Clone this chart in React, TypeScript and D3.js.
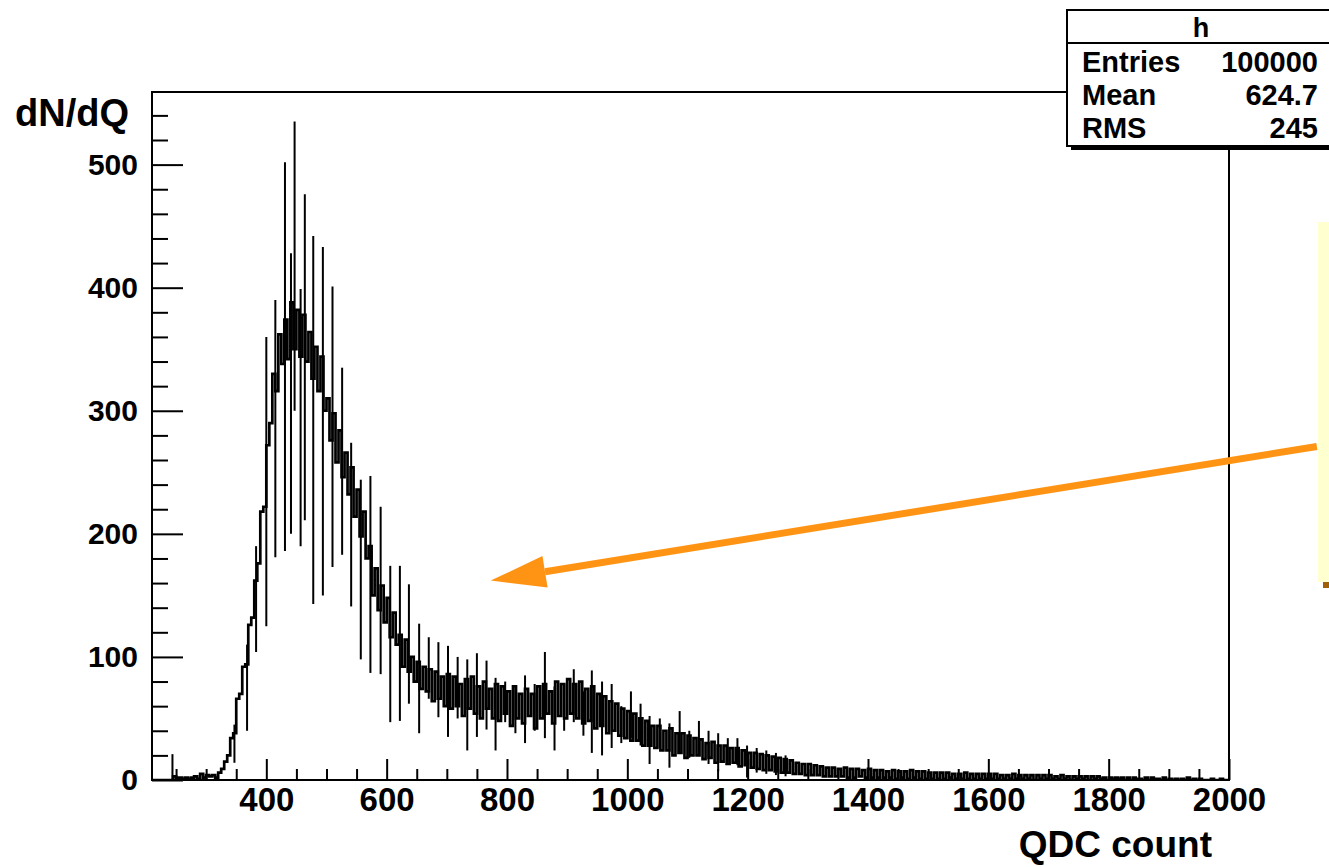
import * as d3 from "d3";
import { useEffect, useRef } from "react";

// histogram "h": QDC spectrum, 5-count bins starting at 210
const binStart = 210;
const binWidth = 5;
const counts = [
  0, 0, 0, 0, 0, 0, 0, 3, 2, 2, 1, 2, 1, 2, 3, 1, 5, 2, 4, 3,
  4, 2, 6, 9, 15, 20, 34, 38, 66, 70, 92, 94, 126, 132, 162, 176, 218, 222, 272, 290,
  330, 316, 362, 338, 374, 342, 388, 350, 382, 344, 378, 340, 364, 326, 352, 316, 344, 300, 310, 276,
  298, 258, 284, 246, 266, 232, 254, 214, 236, 198, 218, 180, 190, 150, 172, 138, 158, 128, 148, 116,
  136, 110, 118, 92, 114, 88, 100, 80, 96, 74, 92, 72, 90, 64, 88, 66, 84, 60, 86, 58,
  84, 60, 78, 52, 82, 58, 84, 54, 76, 50, 80, 58, 74, 50, 78, 48, 76, 54, 72, 44,
  76, 50, 70, 46, 74, 52, 70, 42, 76, 50, 78, 54, 72, 46, 80, 52, 78, 50, 82, 54,
  78, 50, 80, 46, 74, 48, 76, 42, 70, 44, 68, 38, 64, 40, 62, 36, 58, 34, 56, 32,
  54, 32, 50, 28, 48, 28, 44, 26, 44, 24, 40, 24, 42, 20, 38, 22, 38, 18, 36, 20,
  34, 20, 33, 17, 30, 18, 31, 14, 28, 15, 28, 13, 26, 14, 26, 11, 24, 12, 22, 10,
  22, 9, 21, 8, 20, 8, 19, 7, 18, 6, 17, 6, 16, 5, 14, 5, 13, 4, 13, 4,
  12, 4, 11, 3, 10, 3, 10, 3, 9, 3, 10, 2, 9, 2, 9, 3, 8, 2, 9, 2,
  8, 2, 8, 2, 7, 2, 8, 1, 7, 2, 7, 1, 8, 2, 7, 1, 7, 1, 6, 1,
  6, 1, 6, 1, 6, 2, 5, 1, 5, 1, 6, 1, 5, 1, 5, 1, 5, 1, 5, 1,
  5, 1, 4, 1, 4, 1, 5, 1, 4, 1, 4, 1, 4, 0, 4, 1, 4, 1, 4, 1,
  3, 1, 4, 1, 3, 0, 3, 1, 3, 1, 3, 0, 3, 1, 3, 1, 2, 0, 2, 1,
  2, 1, 2, 0, 2, 0, 2, 1, 1, 0, 2, 0, 2, 1, 1, 0, 2, 0, 1, 0,
  1, 0, 1, 0, 2, 0, 1, 0, 1, 0, 0, 0, 1, 0, 0, 1, 0, 0, 0, 1,
];

// single-channel spikes (channel, high count, low count)
const spikes: [number, number, number][] = [
  [244, 21, 0], [347, 45, 14], [368, 110, 40], [383, 190, 104], [400, 360, 125],
  [415, 390, 181], [431, 502, 186], [441, 428, 200], [447, 535, 300], [457, 399, 190],
  [464, 476, 211], [478, 442, 143], [494, 433, 150], [510, 401, 173], [526, 335, 183],
  [541, 274, 141], [557, 244, 98], [573, 247, 87], [590, 222, 86], [606, 174, 47],
  [622, 174, 48], [637, 159, 62], [654, 127, 38], [670, 116, 66], [686, 112, 51],
  [702, 109, 35], [718, 100, 50], [734, 98, 24], [750, 103, 35], [766, 97, 41],
  [781, 83, 24], [797, 80, 47], [814, 75, 38], [830, 85, 30], [846, 78, 40],
  [863, 104, 34], [879, 76, 24], [895, 78, 40], [911, 90, 47], [927, 72, 36],
  [941, 89, 22], [958, 80, 20], [974, 78, 26], [990, 60, 30], [1006, 72, 34],
  [1022, 62, 28], [1037, 52, 13], [1054, 50, 26], [1070, 46, 10], [1087, 56, 22],
  [1103, 40, 18], [1119, 48, 20], [1135, 40, 13], [1151, 38, 7], [1167, 34, 14],
  [1183, 34, 12], [1199, 28, 2], [1215, 26, 6], [1231, 24, 5], [1247, 22, 4], [1263, 20, 3],
];

const xMajor = [400, 600, 800, 1000, 1200, 1400, 1600, 1800, 2000];
const yMajor = [0, 100, 200, 300, 400, 500];
const statRows = [
  ["Entries", "100000"],
  ["Mean", "624.7"],
  ["RMS", "245"],
];

// arrow in data units (tail sits off the frame, on the note box)
const arrowFrom = [2146, 271];
const arrowTo = [773, 162];

const font = "'Liberation Sans', Arial, Helvetica, sans-serif";
const orange = "rgb(255,148,20)";

const App = () => {
  const ref = useRef<SVGSVGElement>(null);

  useEffect(() => {
    const svg = d3.select(ref.current);
    svg.selectAll("*").remove();

    const frame = { left: 152, right: 1229, top: 92, bottom: 780 };
    const x = d3.scaleLinear().domain([210, 2000]).range([frame.left, frame.right]);
    const y = d3.scaleLinear().domain([0, 559]).range([frame.bottom, frame.top]);

    svg.append("rect").attr("width", 1329).attr("height", 867).attr("fill", "white");

    svg.append("clipPath").attr("id", "plot")
      .append("rect")
      .attr("x", frame.left).attr("y", frame.top)
      .attr("width", frame.right - frame.left).attr("height", frame.bottom - frame.top);

    // histogram outline
    const pts: [number, number][] = counts.map((c, i) => [binStart + i * binWidth, c]);
    pts.push([binStart + counts.length * binWidth, counts[counts.length - 1]]);
    const line = d3.line<[number, number]>()
      .x(d => x(d[0])).y(d => y(d[1]))
      .curve(d3.curveStepAfter);
    const g = svg.append("g").attr("clip-path", "url(#plot)");
    g.append("path")
      .attr("d", line(pts))
      .attr("fill", "none")
      .attr("stroke", "black")
      .attr("stroke-width", 2.7);

    g.selectAll(".spike")
      .data(spikes)
      .enter()
      .append("line")
      .attr("x1", d => x(d[0])).attr("x2", d => x(d[0]))
      .attr("y1", d => y(d[1])).attr("y2", d => y(d[2]))
      .attr("stroke", "black")
      .attr("stroke-width", 2);

    // axes
    const xAxis = svg.append("g").attr("transform", `translate(0, ${frame.bottom})`);
    xAxis.call(d3.axisBottom(x).tickValues(xMajor).tickSize(-21).tickPadding(8).tickFormat(d3.format("d")));
    xAxis.append("g").call(
      d3.axisBottom(x).tickValues(d3.range(250, 2000, 50).filter(v => v % 200 !== 0)).tickSize(-11).tickFormat(() => "")
    );
    const yAxis = svg.append("g").attr("transform", `translate(${frame.left}, 0)`);
    yAxis.call(d3.axisLeft(y).tickValues(yMajor).tickSize(-31).tickPadding(14).tickFormat(d3.format("d")));
    yAxis.append("g").call(
      d3.axisLeft(y).tickValues(d3.range(20, 559, 20).filter(v => v % 100 !== 0)).tickSize(-16).tickFormat(() => "")
    );
    svg.selectAll(".domain").remove();
    svg.selectAll(".tick line").attr("stroke", "black").attr("stroke-width", 2);
    xAxis.selectAll("text")
      .attr("font-family", font).attr("font-weight", "bold").attr("font-size", 33).attr("fill", "black");
    yAxis.selectAll("text")
      .attr("font-family", font).attr("font-weight", "bold").attr("font-size", 30).attr("fill", "black");

    svg.append("rect")
      .attr("x", frame.left).attr("y", frame.top)
      .attr("width", frame.right - frame.left).attr("height", frame.bottom - frame.top)
      .attr("fill", "none").attr("stroke", "black").attr("stroke-width", 2);

    svg.append("text").text("dN/dQ")
      .attr("x", 15).attr("y", 126)
      .attr("font-family", font).attr("font-weight", "bold").attr("font-size", 38);
    svg.append("text").text("QDC count")
      .attr("x", 1212).attr("y", 857).attr("text-anchor", "end")
      .attr("font-family", font).attr("font-weight", "bold").attr("font-size", 37);

    // note box on the right and arrow pointing at the tail
    svg.append("rect").attr("x", 1323).attr("y", 226).attr("width", 20).attr("height", 362).attr("fill", "rgb(160,96,10)");
    svg.append("rect").attr("x", 1318).attr("y", 222).attr("width", 30).attr("height", 360).attr("fill", "rgb(255,255,208)");

    const [x0, y0] = [x(arrowFrom[0]), y(arrowFrom[1])];
    const [x1, y1] = [x(arrowTo[0]), y(arrowTo[1])];
    const len = Math.hypot(x0 - x1, y0 - y1);
    const ux = (x0 - x1) / len, uy = (y0 - y1) / len;
    const headL = 55, headW = 16;
    const bx = x1 + ux * headL, by = y1 + uy * headL;
    svg.append("line")
      .attr("x1", x0).attr("y1", y0).attr("x2", bx).attr("y2", by)
      .attr("stroke", orange).attr("stroke-width", 7);
    svg.append("path")
      .attr("d", `M${x1},${y1}L${bx - uy * headW},${by + ux * headW}L${bx + uy * headW},${by - ux * headW}Z`)
      .attr("fill", orange);

    // stats box
    const sb = { x: 1067, y: 10, w: 268, h: 136 };
    svg.append("rect").attr("x", sb.x + 4).attr("y", sb.y + 4).attr("width", sb.w).attr("height", sb.h).attr("fill", "black");
    svg.append("rect").attr("x", sb.x).attr("y", sb.y).attr("width", sb.w).attr("height", sb.h)
      .attr("fill", "white").attr("stroke", "black").attr("stroke-width", 2);
    svg.append("line").attr("x1", sb.x).attr("x2", sb.x + sb.w).attr("y1", 43).attr("y2", 43)
      .attr("stroke", "black").attr("stroke-width", 2);
    svg.append("text").text("h")
      .attr("x", sb.x + sb.w / 2).attr("y", 37).attr("text-anchor", "middle")
      .attr("font-family", font).attr("font-weight", "bold").attr("font-size", 27);
    statRows.forEach((r, i) => {
      const yy = 72 + i * 33;
      svg.append("text").text(r[0]).attr("x", 1082).attr("y", yy)
        .attr("font-family", font).attr("font-weight", "bold").attr("font-size", 29);
      svg.append("text").text(r[1]).attr("x", 1318).attr("y", yy).attr("text-anchor", "end")
        .attr("font-family", font).attr("font-weight", "bold").attr("font-size", 29);
    });
  }, []);

  return (
    <svg ref={ref} width={1329} height={867} style={{ position: "absolute", left: 0, top: 0 }} />
  );
};

export default App;
